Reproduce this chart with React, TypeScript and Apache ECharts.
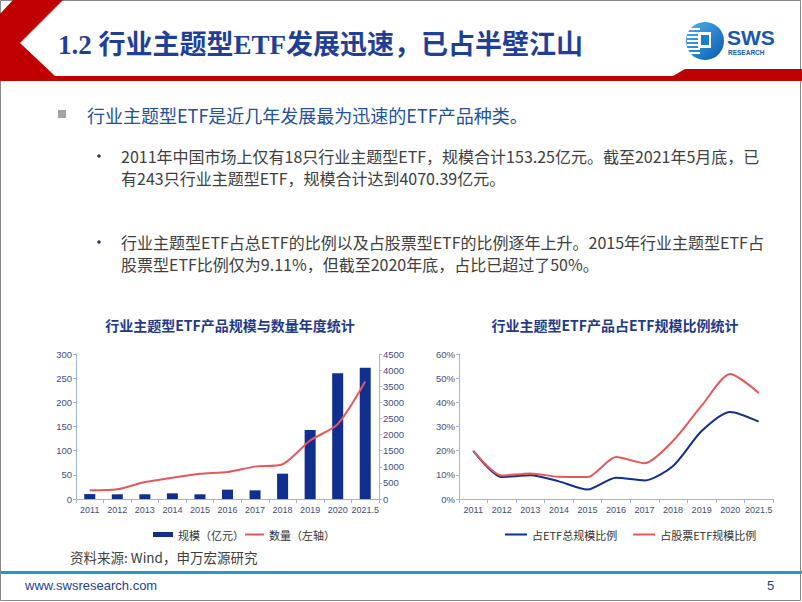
import React, { useEffect, useRef } from "react";
import * as echarts from "echarts";

const years = ["2011", "2012", "2013", "2014", "2015", "2016", "2017", "2018", "2019", "2020", "2021.5"];
// 规模（亿元） — right axis
const scaleValues = [153, 146, 146, 176, 146, 290, 269, 786, 2142, 3900, 4070];
// 数量 — left axis
const countValues = [18, 20, 35, 44, 52, 56, 67, 72, 121, 155, 243];
// 占ETF总规模比例 (%)
const shareTotal = [19.9, 9.1, 9.8, 7.3, 3.9, 8.8, 7.7, 13.7, 28.1, 36.0, 32.0];
// 占股票ETF规模比例 (%)
const shareStock = [19.9, 9.7, 10.6, 9.2, 9.11, 17.4, 14.8, 24.1, 38.6, 51.7, 43.9];

const headerTitle = "1.2 行业主题型ETF发展迅速，已占半壁江山";
const mainBullet = "行业主题型ETF是近几年发展最为迅速的ETF产品种类。";
const subBullet1 = [
  "2011年中国市场上仅有18只行业主题型ETF，规模合计153.25亿元。截至2021年5月底，已",
  "有243只行业主题型ETF，规模合计达到4070.39亿元。",
];
const subBullet2 = [
  "行业主题型ETF占总ETF的比例以及占股票型ETF的比例逐年上升。2015年行业主题型ETF占",
  "股票型ETF比例仅为9.11%，但截至2020年底，占比已超过了50%。",
];
const chart1Title = "行业主题型ETF产品规模与数量年度统计";
const chart2Title = "行业主题型ETF产品占ETF规模比例统计";
const sourceText = "资料来源: Wind，申万宏源研究";

const CJK = '"Noto Sans CJK SC", "Noto Sans", sans-serif';
const SANS = '"Liberation Sans", "Noto Sans CJK SC", sans-serif';
const NAVY = "#102f8f";
const RED = "#e8585a";
const AXIS_LINE = "#9fb6d8";
const LABEL = "#3f4e80";

export default function App() {
  const ref = useRef<HTMLDivElement>(null);

  useEffect(() => {
    if (!ref.current) return;
    const chart = echarts.init(ref.current, null, { renderer: "svg" });

    const xAxisBase = (gridIndex: number) => ({
      gridIndex,
      type: "category",
      data: years,
      boundaryGap: true,
      axisLine: { show: true, lineStyle: { color: AXIS_LINE, width: 1 } },
      axisTick: { show: true, length: 4, lineStyle: { color: AXIS_LINE } },
      axisLabel: { interval: 0, fontSize: 9, color: LABEL, margin: 6, fontFamily: SANS },
      splitLine: { show: false },
    });
    const yAxisBase = (gridIndex: number, min: number, max: number, interval: number, position: string, suffix: string) => ({
      gridIndex,
      type: "value",
      position,
      min,
      max,
      interval,
      axisLine: { show: true, lineStyle: { color: AXIS_LINE, width: 1 } },
      axisTick: { show: true, length: 3, lineStyle: { color: AXIS_LINE } },
      axisLabel: {
        fontSize: 9.5,
        color: LABEL,
        margin: 4,
        fontFamily: SANS,
        formatter: (v: number) => String(v) + suffix,
      },
      splitLine: { show: false },
    });

    const bulletLines: any[] = [];
    const addLines = (lines: string[], y0: number) => {
      lines.forEach((t, i) => {
        bulletLines.push({
          type: "text",
          style: {
            text: t,
            x: 121,
            y: y0 + i * 22,
            fill: "#404040",
            fontSize: 16,
            fontFamily: CJK,
            textVerticalAlign: "middle",
          },
        });
      });
      bulletLines.push({
        type: "circle",
        shape: { cx: 99, cy: y0, r: 1.8 },
        style: { fill: "#3a3a5a" },
      });
    };
    addLines(subBullet1, 156);
    addLines(subBullet2, 242);

    // logo stripes
    const stripes: any[] = [];
    [28, 32, 36, 40, 44, 48, 52].forEach((yy) => {
      stripes.push({
        type: "rect",
        shape: { x: 687, y: yy, width: 13, height: 2 },
        style: { fill: "#ffffff" },
        z: 12,
      });
    });

    const legendText = { fontSize: 11, color: "#333333", fontFamily: CJK };

    chart.setOption({
      animation: false,
      textStyle: { fontFamily: SANS },
      grid: [
        { left: 76, top: 354, width: 303, height: 145 },
        { left: 459, top: 354, width: 314, height: 145 },
      ],
      xAxis: [xAxisBase(0), xAxisBase(1)],
      yAxis: [
        yAxisBase(0, 0, 300, 50, "left", ""),
        yAxisBase(0, 0, 4500, 500, "right", ""),
        yAxisBase(1, 0, 60, 10, "left", "%"),
      ],
      legend: [
        {
          data: [{ name: "规模（亿元）", icon: "rect" }],
          left: 148,
          top: 524,
          itemWidth: 20,
          itemHeight: 5,
          textStyle: legendText,
        },
        {
          data: [{ name: "数量（左轴）", icon: "rect" }],
          left: 240,
          top: 524,
          itemWidth: 19,
          itemHeight: 2,
          textStyle: legendText,
        },
        {
          data: [
            { name: "占ETF总规模比例", icon: "rect" },
            { name: "占股票ETF规模比例", icon: "rect" },
          ],
          left: 500,
          top: 524,
          itemWidth: 22,
          itemHeight: 2,
          itemGap: 16,
          textStyle: legendText,
        },
      ],
      series: [
        {
          name: "规模（亿元）",
          type: "bar",
          xAxisIndex: 0,
          yAxisIndex: 1,
          data: scaleValues,
          barWidth: 11,
          itemStyle: { color: NAVY },
        },
        {
          name: "数量（左轴）",
          type: "line",
          xAxisIndex: 0,
          yAxisIndex: 0,
          data: countValues,
          symbol: "none",
          smooth: 0.25,
          lineStyle: { color: RED, width: 2 },
          itemStyle: { color: RED },
        },
        {
          name: "占ETF总规模比例",
          type: "line",
          xAxisIndex: 1,
          yAxisIndex: 2,
          data: shareTotal,
          symbol: "none",
          smooth: 0.25,
          lineStyle: { color: NAVY, width: 2 },
          itemStyle: { color: NAVY },
        },
        {
          name: "占股票ETF规模比例",
          type: "line",
          xAxisIndex: 1,
          yAxisIndex: 2,
          data: shareStock,
          symbol: "none",
          smooth: 0.25,
          lineStyle: { color: RED, width: 2 },
          itemStyle: { color: RED },
        },
      ],
      graphic: [
        // page border
        {
          type: "rect",
          shape: { x: 0.5, y: 0.5, width: 800, height: 600 },
          style: { fill: "none", stroke: "#8a8a8a", lineWidth: 1 },
          z: 1,
        },
        // red chevron + header band
        {
          type: "polygon",
          shape: {
            points: [
              [13, 0], [63, 0], [20, 43], [55, 76], [673, 76], [685, 69], [802, 69], [802, 81], [0, 81], [0, 14],
            ],
          },
          style: { fill: "#c00000" },
          z: 5,
        },
        {
          type: "text",
          style: {
            text: headerTitle,
            x: 58,
            y: 45,
            fill: "#1f3f99",
            fontSize: 27,
            fontWeight: "bold",
            fontFamily: '"Liberation Serif", "Noto Sans CJK SC", serif',
            textVerticalAlign: "middle",
          },
          z: 10,
        },
        // logo
        {
          type: "circle",
          shape: { cx: 705, cy: 41, r: 19 },
          style: {
            fill: new echarts.graphic.LinearGradient(0, 0, 1, 1, [
              { offset: 0, color: "#4db3ee" },
              { offset: 1, color: "#0a5aae" },
            ]),
          },
          z: 11,
        },
        ...stripes,
        {
          type: "rect",
          shape: { x: 698, y: 32, width: 13, height: 16 },
          style: { fill: "#ffffff" },
          z: 13,
        },
        {
          type: "rect",
          shape: { x: 701, y: 35, width: 8, height: 10 },
          style: { fill: "#1b7fd0" },
          z: 14,
        },
        {
          type: "text",
          style: {
            text: "SWS",
            x: 727,
            y: 37.5,
            fill: "#1a58b0",
            fontSize: 21,
            fontWeight: "bold",
            fontFamily: SANS,
            textVerticalAlign: "middle",
          },
          z: 10,
        },
        {
          type: "text",
          style: {
            text: "RESEARCH",
            x: 728,
            y: 52.5,
            fill: "#1a58b0",
            fontSize: 6.5,
            fontWeight: "bold",
            fontFamily: SANS,
            textVerticalAlign: "middle",
          },
          z: 10,
        },
        // main bullet
        {
          type: "rect",
          shape: { x: 58, y: 110, width: 8, height: 8 },
          style: { fill: "#a6a6a6" },
        },
        {
          type: "text",
          style: {
            text: mainBullet,
            x: 87,
            y: 115,
            fill: "#2350a0",
            fontSize: 18,
            fontFamily: CJK,
            textVerticalAlign: "middle",
          },
        },
        ...bulletLines,
        // chart titles
        {
          type: "text",
          style: {
            text: chart1Title,
            x: 230,
            y: 325,
            fill: "#1f3a8a",
            fontSize: 14,
            fontWeight: "bold",
            fontFamily: CJK,
            textAlign: "center",
            textVerticalAlign: "middle",
          },
        },
        {
          type: "text",
          style: {
            text: chart2Title,
            x: 615,
            y: 325,
            fill: "#1f3a8a",
            fontSize: 14,
            fontWeight: "bold",
            fontFamily: CJK,
            textAlign: "center",
            textVerticalAlign: "middle",
          },
        },
        // source
        {
          type: "text",
          style: {
            text: sourceText,
            x: 70,
            y: 557,
            fill: "#404040",
            fontSize: 13.5,
            fontFamily: CJK,
            textVerticalAlign: "middle",
          },
        },
        // footer line
        {
          type: "rect",
          shape: { x: 0, y: 571, width: 802, height: 3 },
          style: { fill: "#1f9bcf" },
        },
        {
          type: "text",
          style: {
            text: "www.swsresearch.com",
            x: 25,
            y: 585,
            fill: "#1e3f96",
            fontSize: 13,
            fontFamily: SANS,
            textVerticalAlign: "middle",
          },
        },
        {
          type: "text",
          style: {
            text: "5",
            x: 767,
            y: 585,
            fill: "#1e3f96",
            fontSize: 13,
            fontFamily: SANS,
            textVerticalAlign: "middle",
          },
        },
      ],
    });

    return () => chart.dispose();
  }, []);

  return (
    <div
      ref={ref}
      style={{ position: "fixed", left: 0, top: 0, width: 802, height: 602, background: "#ffffff" }}
    />
  );
}
